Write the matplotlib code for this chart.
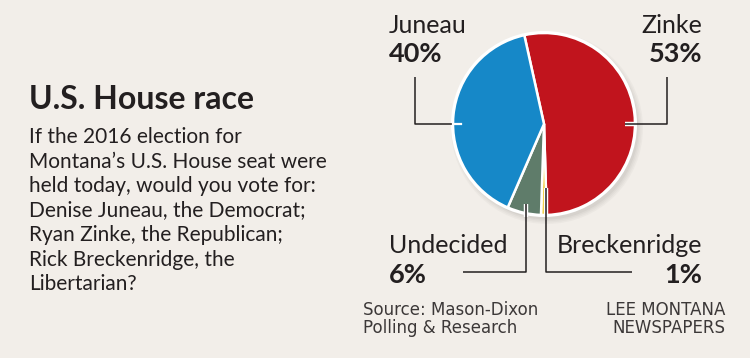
import numpy as np
import matplotlib
matplotlib.use("Agg")
import matplotlib.pyplot as plt
from matplotlib.patches import Circle
import matplotlib.patheffects as pe

# ---- data ----
candidates = ["Zinke", "Breckenridge", "Undecided", "Juneau"]
shares = [53, 1, 6, 40]
colors = ["#c1141d", "#f0c419", "#5f7c6a", "#1688c8"]
title = "U.S. House race"
question_lines = [
    "If the 2016 election for",
    "Montana\u2019s U.S. House seat were",
    "held today, would you vote for:",
    "Denise Juneau, the Democrat;",
    "Ryan Zinke, the Republican;",
    "Rick Breckenridge, the",
    "Libertarian?",
]
source_lines = ["Source: Mason-Dixon", "Polling & Research"]
credit_lines = ["LEE MONTANA", "NEWSPAPERS"]

BG = "#f2eee9"
INK = "#231f20"
W, H = 750, 358

fig = plt.figure(figsize=(7.5, 3.58), dpi=100, facecolor=BG)
ax = fig.add_axes([0, 0, 1, 1])
ax.set_facecolor(BG)

cx, cy, r = 544, 234, 91

# shadow
for i, a in enumerate([0.05, 0.05, 0.06, 0.08]):
    ax.add_patch(Circle((cx + 3, cy - 4), r + 5 - i * 1.5, color="#7a7570", alpha=a, lw=0, zorder=1))
# white rim
ax.add_patch(Circle((cx, cy), r + 2, color="white", lw=0, zorder=2))

wedges, _ = ax.pie(shares, colors=colors, startangle=102.5, counterclock=False,
                   center=(cx, cy), radius=r,
                   wedgeprops=dict(edgecolor="white", linewidth=1.8, zorder=3))
for w in wedges:
    w.set_zorder(3)

ax.set_xlim(0, W)
ax.set_ylim(0, H)
ax.set_aspect("equal")
ax.axis("off")

def mid_angle(w):
    return np.deg2rad((w.theta1 + w.theta2) / 2)

halo = [pe.withStroke(linewidth=3.2, foreground="white")]
lk = dict(color=INK, lw=1.1, zorder=5, solid_capstyle="butt")

# Juneau leader
jx = 415
ax.plot([jx, jx, cx - r], [281, cy, cy], **lk)
ax.plot([cx - r, cx - r + 8], [cy, cy], color="white", lw=1.6, zorder=5)
# Zinke leader
zx = 667
ax.plot([zx, zx, cx + r], [281, cy, cy], **lk)
ax.plot([cx + r, cx + r - 10], [cy, cy], path_effects=halo, **lk)
# Undecided leader
a = mid_angle(wedges[2])
ux = cx + 0.9 * r * np.cos(a)
uy0 = cy + 0.9 * r * np.sin(a)
ybot = 86
ax.plot([ux, ux], [uy0, cy - r - 2], path_effects=halo, **lk)
ax.plot([ux, ux, 463], [cy - r - 2, ybot, ybot], **lk)
# Breckenridge leader
a = mid_angle(wedges[1])
bx = cx + r * np.cos(a) + 2
ax.plot([bx, bx], [cy - 0.7 * r, cy - r - 2], path_effects=halo, **lk)
ax.plot([bx, bx, 632], [cy - r - 2, ybot, ybot], **lk)

lab_font = ["Lato", "DejaVu Sans"]
LS = 18
PS = 19.5
# labels
ax.text(389, 325, "Juneau", fontsize=LS, family=lab_font, color=INK, va="baseline", ha="left")
ax.text(389, 296, f"{shares[3]}%", fontsize=PS, family=lab_font, weight="bold", color=INK, va="baseline", ha="left")
ax.text(702, 325, "Zinke", fontsize=LS, family=lab_font, color=INK, va="baseline", ha="right")
ax.text(702, 296, f"{shares[0]}%", fontsize=PS, family=lab_font, weight="bold", color=INK, va="baseline", ha="right")
ax.text(389, 105, "Undecided", fontsize=LS, family=lab_font, color=INK, va="baseline", ha="left")
ax.text(389, 75, f"{shares[2]}%", fontsize=PS, family=lab_font, weight="bold", color=INK, va="baseline", ha="left")
ax.text(702, 105, "Breckenridge", fontsize=LS, family=lab_font, color=INK, va="baseline", ha="right")
ax.text(702, 75, f"{shares[1]}%", fontsize=PS, family=lab_font, weight="bold", color=INK, va="baseline", ha="right")

# title and question
ax.text(29, 249, title, fontsize=23, family=lab_font,
        weight="bold", color=INK, va="baseline", ha="left")
y0 = 358 - 143
for i, line in enumerate(question_lines):
    ax.text(29, y0 - i * 24.5, line, fontsize=15, family=lab_font, color=INK, va="baseline", ha="left")

# source / credit (single multi-line texts; baseline = last line)
sfont = ["DejaVu Sans"]
ax.text(363, 358 - 333, "\n".join(source_lines), fontsize=12, family=sfont, linespacing=0.98,
        color="#3c3838", va="baseline", ha="left", multialignment="left")
ax.text(725, 358 - 333, "\n".join(credit_lines), fontsize=12, family=sfont, linespacing=0.98,
        color="#3c3838", va="baseline", ha="right", multialignment="right")

fig.savefig("out.png", dpi=100, facecolor=BG)
